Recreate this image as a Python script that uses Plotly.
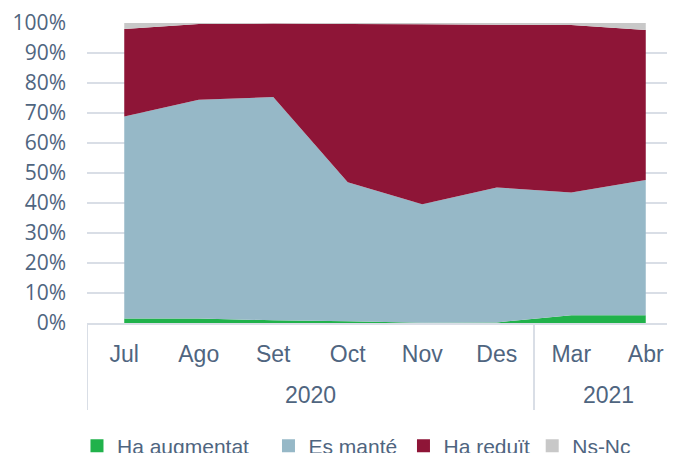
import plotly.graph_objects as go

years = ["2020", "2020", "2020", "2020", "2020", "2020", "2021", "2021"]
months = ["Jul", "Ago", "Set", "Oct", "Nov", "Des", "Mar", "Abr"]

ha_augmentat = [1.5, 1.5, 0.9, 0.6, 0.1, 0.2, 2.6, 2.6]
es_mante = [67.3, 72.9, 74.4, 46.3, 39.5, 45.0, 40.9, 45.1]
ha_reduit = [29.2, 25.3, 24.5, 52.8, 60.0, 54.2, 55.8, 50.0]
ns_nc = [2.0, 0.3, 0.2, 0.3, 0.4, 0.6, 0.7, 2.3]

series = [
    ("Ha augmentat", ha_augmentat, "#21B24B"),
    ("Es manté", es_mante, "#96B8C7"),
    ("Ha reduït", ha_reduit, "#8E1537"),
    ("Ns-Nc", ns_nc, "#C8C8C8"),
]
legend_x = [-0.0168, 0.3045, 0.531, 0.747]

TEXT = "#4F6580"
GRID = "#D9DEE6"
FONT = "Liberation Sans, Arial, sans-serif"

fig = go.Figure()
for name, vals, col in series:
    fig.add_trace(go.Scatter(
        x=months, y=vals, name=name, stackgroup="one",
        mode="none", fillcolor=col, line=dict(width=0), showlegend=False,
    ))

legend_layout = {}
for k, ((name, vals, col), lx) in enumerate(zip(series, legend_x)):
    key = "legend" if k == 0 else f"legend{k + 1}"
    fig.add_trace(go.Scatter(
        x=[None], y=[None], name=name, mode="markers",
        marker=dict(symbol="square", size=13, color=col),
        showlegend=True, legend=key,
    ))
    legend_layout[key] = dict(orientation="h", x=lx, xanchor="left",
                              y=0.033, yref="container",
                              yanchor="middle", font=dict(size=21, color=TEXT, family=FONT),
                              itemwidth=30, bgcolor="rgba(0,0,0,0)")

# year group labels and dividers computed from the category indices
groups = []
for i, yr in enumerate(years):
    if not groups or groups[-1][0] != yr:
        groups.append([yr, i, i])
    else:
        groups[-1][2] = i

for yr, i0, i1 in groups:
    fig.add_annotation(x=(i0 + i1) / 2, y=-0.24, xref="x", yref="paper",
                       text=yr, showarrow=False, yanchor="middle",
                       font=dict(size=23, color=TEXT, family=FONT))
    for b in (i0 - 0.5, i1 + 0.5):
        fig.add_shape(type="line", x0=b, x1=b, y0=0, y1=-0.29, xref="x", yref="paper",
                      line=dict(color=GRID, width=2), layer="below")

fig.update_layout(
    width=675, height=453,
    margin=dict(l=79, r=0, t=15, b=138, autoexpand=False),
    paper_bgcolor="white", plot_bgcolor="white",
    font=dict(family=FONT, color=TEXT, size=19),
    showlegend=True,
    **legend_layout,
)
fig.update_yaxes(range=[0, 100], dtick=10, ticksuffix="%", showgrid=True,
                 gridcolor=GRID, gridwidth=2, zeroline=False, showline=False,
                 automargin=False,
                 ticklabelstandoff=20, tickfont=dict(size=21, color=TEXT, family="Open Sans, sans-serif"))
fig.update_xaxes(type="category", range=[-0.5, 7.5], showgrid=False,
                 showline=True, linecolor=GRID, linewidth=2, automargin=False,
                 tickfont=dict(size=23, color=TEXT, family=FONT), ticks="", ticklabelstandoff=9)

fig.write_html("out.html")
